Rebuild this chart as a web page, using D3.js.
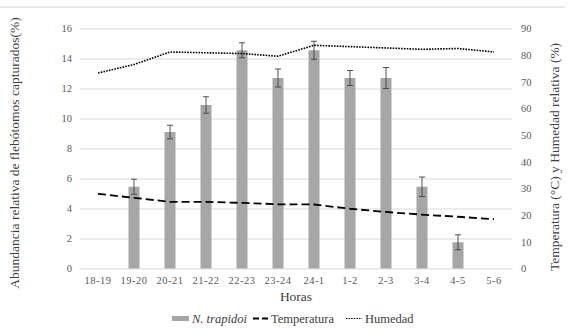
<!DOCTYPE html>
<html>
<head lang="es">
    <meta charset="UTF-8">
    <title></title>
    <script src="https://cdn.jsdelivr.net/npm/d3@7"></script>
    <style>
        body{margin:0;background:#fff;}
    </style>
</head>
<body>
<div id="tu1"></div>
<script>
    var horas=['18-19','19-20','20-21','21-22','22-23','23-24','24-1','1-2','2-3','3-4','4-5','5-6'];
    var abundancia=[null,5.45,9.1,10.9,14.55,12.7,14.55,12.7,12.7,5.45,1.75,null];
    var errores=[null,0.5,0.45,0.55,0.5,0.6,0.6,0.5,0.7,0.65,0.5,null];
    var temperatura=[28,26.5,25,25,24.6,24.1,24,22.4,21.2,20.2,19.4,18.5];
    var humedad=[73.3,76.5,81.2,80.9,80.6,79.6,83.7,83.2,82.7,82.2,82.5,81.2];
    var ticksIzq=[0,2,4,6,8,10,12,14,16];
    var ticksDer=[0,10,20,30,40,50,60,70,80,90];

    var fuente='"Liberation Serif","Times New Roman",serif';
    var svgwidth=569,svgheight=332;
    var _svg=d3.select('#tu1').append('svg')
            .attr('width',svgwidth)
            .attr('height',svgheight)
            .style('font-family',fuente);

    //borde superior del grafico
    _svg.append('line')
            .attr('x1',0).attr('x2',565)
            .attr('y1',7).attr('y2',7)
            .attr('stroke','#e3e3e3').attr('stroke-width',1.5);

    var plot={left:80,right:512,top:28.5,bottom:268.5};

    var x=d3.scaleBand().domain(horas).range([plot.left,plot.right]);
    var yL=d3.scaleLinear().domain([0,16]).range([plot.bottom,plot.top]);
    var yR=d3.scaleLinear().domain([0,90]).range([plot.bottom,plot.top]);
    var cx=function(h){return x(h)+x.bandwidth()/2;};

    function estiloEje(g){
        g.select('.domain').remove();
        g.attr('font-family',null);
        g.selectAll('text').attr('fill','#595959')
                .style('font-family',fuente).style('font-size','10.5px');
    }

    //lineas de cuadricula + eje izquierdo
    var gy=_svg.append('g')
            .attr('transform','translate('+plot.left+',0)')
            .call(d3.axisLeft(yL).tickValues(ticksIzq).tickSize(-(plot.right-plot.left)).tickPadding(8));
    estiloEje(gy);
    gy.selectAll('line').attr('stroke','#d9d9d9');

    //eje derecho
    var gr=_svg.append('g')
            .attr('transform','translate('+plot.right+',0)')
            .call(d3.axisRight(yR).tickValues(ticksDer).tickSize(0).tickPadding(9));
    estiloEje(gr);

    //eje x
    var gx=_svg.append('g')
            .attr('transform','translate(0,'+plot.bottom+')')
            .call(d3.axisBottom(x).tickSize(0).tickPadding(8));
    estiloEje(gx);
    gx.selectAll('text').attr('letter-spacing','0.5px');

    //barras
    var datos=horas.map(function(h,i){return {h:h,v:abundancia[i],e:errores[i]};})
            .filter(function(d){return d.v!=null;});
    var bw=11;
    _svg.append('g').selectAll('rect').data(datos).enter().append('rect')
            .attr('x',function(d){return cx(d.h)-bw/2;})
            .attr('y',function(d){return yL(d.v);})
            .attr('width',bw)
            .attr('height',function(d){return yL(0)-yL(d.v);})
            .attr('fill','#a6a6a6');

    //barras de error
    var ge=_svg.append('g').attr('stroke','#3f3f3f').attr('stroke-width',0.9);
    datos.forEach(function(d){
        var c=cx(d.h),t=yL(d.v+d.e),b=yL(d.v-d.e);
        ge.append('line').attr('x1',c).attr('x2',c).attr('y1',t).attr('y2',b);
        ge.append('line').attr('x1',c-3).attr('x2',c+3).attr('y1',t).attr('y2',t);
        ge.append('line').attr('x1',c-3).attr('x2',c+3).attr('y1',b).attr('y2',b);
    });

    //lineas
    var lineaR=d3.line()
            .x(function(d){return cx(d[0]);})
            .y(function(d){return yR(d[1]);});
    _svg.append('path')
            .attr('d',lineaR(d3.zip(horas,temperatura)))
            .attr('fill','none').attr('stroke','#000')
            .attr('stroke-width',1.8).attr('stroke-dasharray','8,4');
    _svg.append('path')
            .attr('d',lineaR(d3.zip(horas,humedad)))
            .attr('fill','none').attr('stroke','#000')
            .attr('stroke-width',1.6).attr('stroke-dasharray','1.6,1.2');

    //titulos de ejes
    _svg.append('text')
            .attr('transform','translate(19,153) rotate(-90)')
            .attr('text-anchor','middle')
            .style('font-size','13.5px').attr('fill','#404040')
            .text('Abundancia relativa de flebótomos capturados(%)');
    _svg.append('text')
            .attr('transform','translate(559,157) rotate(-90)')
            .attr('text-anchor','middle')
            .style('font-size','13.5px').attr('fill','#404040')
            .text('Temperatura (°C) y Humedad relativa (%)');
    _svg.append('text')
            .attr('x',296).attr('y',301)
            .attr('text-anchor','middle')
            .style('font-size','13.5px').attr('fill','#404040')
            .text('Horas');

    //leyenda
    var gl=_svg.append('g').style('font-size','12.5px').attr('fill','#404040');
    gl.append('rect').attr('x',172).attr('y',316).attr('width',17).attr('height',5).attr('fill','#a6a6a6');
    gl.append('text').attr('x',192).attr('y',323).attr('font-style','italic').text('N. trapidoi');
    gl.append('line').attr('x1',253).attr('x2',268).attr('y1',318.5).attr('y2',318.5)
            .attr('stroke','#000').attr('stroke-width',1.8).attr('stroke-dasharray','6,3');
    gl.append('text').attr('x',271).attr('y',323).text('Temperatura');
    gl.append('line').attr('x1',346).attr('x2',362).attr('y1',318.5).attr('y2',318.5)
            .attr('stroke','#000').attr('stroke-width',1.2).attr('stroke-dasharray','1.4,1.2');
    gl.append('text').attr('x',365).attr('y',323).text('Humedad');
</script>
</body>
</html>
